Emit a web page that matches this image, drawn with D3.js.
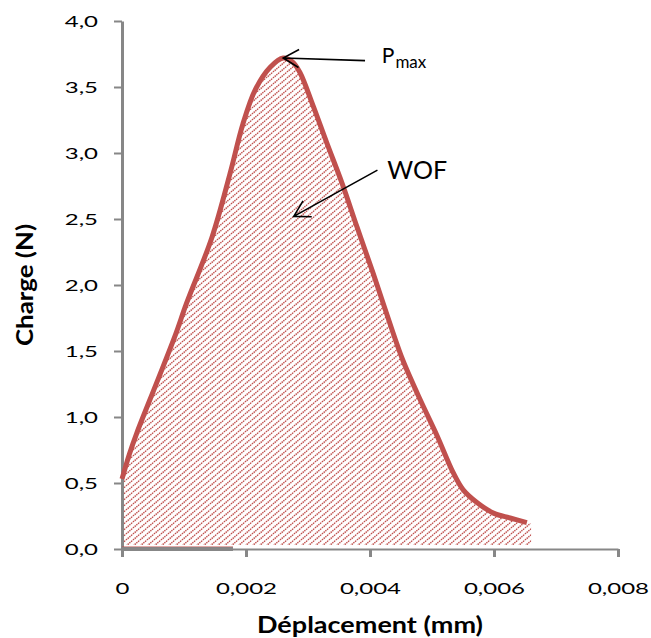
<!DOCTYPE html>
<html><head><meta charset="utf-8">
<script src="https://cdn.jsdelivr.net/npm/d3@7"></script>
<style>
html,body{margin:0;padding:0;background:#fff;}
svg{display:block;font-family:Lato,"Open Sans",sans-serif;}
</style></head>
<body><svg id="c" width="651" height="638"></svg>
<script>
// ---- data ----
const dispX = [0, 0.00012, 0.00024, 0.00056, 0.00086, 0.00104, 0.00145, 0.00174, 0.00195, 0.00215, 0.00239, 0.0026, 0.00275, 0.00287, 0.00308, 0.0033, 0.00355, 0.00379, 0.00405, 0.00437, 0.00453, 0.00481, 0.00508, 0.00534, 0.0055, 0.00573, 0.006, 0.00626, 0.00653];
const loadY = [0.53, 0.72, 0.88, 1.26, 1.62, 1.86, 2.36, 2.84, 3.22, 3.48, 3.65, 3.72, 3.69, 3.61, 3.36, 3.08, 2.77, 2.44, 2.09, 1.64, 1.43, 1.13, 0.86, 0.58, 0.45, 0.35, 0.27, 0.235, 0.2];
const areaEndX = 0.0066, areaEndY = 0.19, areaBase = 0.03;
const baseSeriesX = [0, 0.00179];
const baseSeriesY = [0, 0];
const yTicks = [0, 0.5, 1.0, 1.5, 2.0, 2.5, 3.0, 3.5, 4.0];
const xTicks = [0, 0.002, 0.004, 0.006, 0.008];
const xTitle = "Déplacement (mm)";
const yTitle = "Charge (N)";
const annPmax = {tip:[0.0026, 3.72], tail:[0.00392, 3.70], text:[0.00419, 3.70]};
const annWOF  = {tip:[0.00277, 2.52], tail:[0.00412, 2.87], text:[0.00428, 2.80]};

// ---- layout ----
const SX = 1.5; // horizontal stretch of the chart tick text
const RED = "#c0504d", AX = "#878787";
const svg = d3.select("#c");
const x = d3.scaleLinear().domain([0, 0.008]).range([122, 618]);
const y = d3.scaleLinear().domain([0, 4]).range([549, 21]);

// hatch pattern
const defs = svg.append("defs");
const pat = defs.append("pattern").attr("id","hatch").attr("patternUnits","userSpaceOnUse")
  .attr("width",7).attr("height",6);
pat.append("path").attr("d","M-7,6 L0,0 M0,6 L7,0 M7,6 L14,0")
  .attr("stroke",RED).attr("stroke-width",1.5)
  .attr("stroke-dasharray","1.4 0.8").attr("fill","none");

const pts = dispX.map((d,i)=>({x:d, y:loadY[i]}));
const areaPts = pts.concat([{x:areaEndX, y:areaEndY}]);
const curve = d3.curveCatmullRom.alpha(0.5);

svg.append("path").datum(areaPts)
  .attr("d", d3.area().x(d=>x(d.x)).y0(y(areaBase)).y1(d=>y(d.y)).curve(curve))
  .attr("fill","url(#hatch)");

// axes
const yAxis = svg.append("g").attr("transform",`translate(${x(0)},0)`)
  .call(d3.axisLeft(y).tickValues(yTicks).tickSize(8).tickSizeOuter(0)
    .tickFormat(d=>d3.format(".1f")(d).replace(".",",")));
yAxis.select(".domain").attr("stroke",AX).attr("stroke-width",3);
yAxis.selectAll(".tick line").attr("stroke",AX).attr("stroke-width",2);
yAxis.selectAll(".tick text").attr("x",-24/SX).attr("dy","0.36em").attr("fill","#000")
  .attr("font-size",16).attr("font-family","Lato").attr("transform",`scale(${SX},1)`);

const xAxis = svg.append("g").attr("transform",`translate(0,${y(0)})`)
  .call(d3.axisBottom(x).tickValues(xTicks).tickSize(8).tickSizeOuter(0)
    .tickFormat(d=> d===0 ? "0" : d3.format(".3f")(d).replace(".",",")));
xAxis.select(".domain").attr("stroke",AX).attr("stroke-width",2.2);
xAxis.selectAll(".tick line").attr("stroke",AX).attr("stroke-width",3);
xAxis.selectAll(".tick text").attr("y",45).attr("dy",0).attr("fill","#000")
  .attr("font-size",16).attr("font-family","Lato").attr("transform",`scale(${SX},1)`);

// baseline series (grey + faint red)
svg.append("path").datum(baseSeriesX.map((d,i)=>[d, baseSeriesY[i]]))
  .attr("d", d3.line().x(d=>x(d[0])).y(d=>y(d[1])))
  .attr("stroke",AX).attr("stroke-width",4).attr("fill","none");
svg.append("path").datum(baseSeriesX.map((d,i)=>[d, areaBase*0.6]))
  .attr("d", d3.line().x(d=>x(d[0])).y(d=>y(d[1])))
  .attr("stroke",RED).attr("stroke-width",1).attr("opacity",0.55).attr("fill","none");

// curve
svg.append("path").datum(pts)
  .attr("d", d3.line().x(d=>x(d.x)).y(d=>y(d.y)).curve(curve))
  .attr("stroke",RED).attr("stroke-width",5).attr("fill","none")
  .attr("stroke-linejoin","round").attr("stroke-linecap","butt");

// axis titles
svg.append("text").attr("x",(x(0)+x(0.008))/2).attr("y",633)
  .attr("text-anchor","middle").attr("font-weight","bold").attr("font-size",22)
  .attr("font-family","Lato").attr("textLength",226).attr("lengthAdjust","spacingAndGlyphs")
  .text(xTitle);
svg.append("text").attr("transform",`translate(33,${y(2)}) rotate(-90)`)
  .attr("text-anchor","middle").attr("font-weight","bold").attr("font-size",22)
  .attr("font-family","Lato").attr("textLength",122).attr("lengthAdjust","spacingAndGlyphs")
  .text(yTitle);

// annotations
function arrow(a){
  const tx=x(a.tip[0]), ty=y(a.tip[1]), sx=x(a.tail[0]), sy=y(a.tail[1]);
  const ang=Math.atan2(sy-ty, sx-tx), L=18, da=Math.PI/6;
  const p1=[tx+L*Math.cos(ang+da), ty+L*Math.sin(ang+da)];
  const p2=[tx+L*Math.cos(ang-da), ty+L*Math.sin(ang-da)];
  svg.append("path").attr("d",`M${sx},${sy}L${tx},${ty}M${p1[0]},${p1[1]}L${tx},${ty}L${p2[0]},${p2[1]}`)
    .attr("stroke","#000").attr("stroke-width",1.6).attr("fill","none");
}
arrow(annPmax); arrow(annWOF);
const tp = svg.append("text").attr("x",x(annPmax.text[0])).attr("y",y(annPmax.text[1])+2)
  .attr("font-family","Lato").attr("font-size",21);
tp.append("tspan").text("P");
tp.append("tspan").attr("font-size",17).attr("dy",5).attr("dx",1).text("max");
svg.append("text").attr("x",x(annWOF.text[0])).attr("y",y(annWOF.text[1]))
  .attr("font-family","Lato").attr("font-size",25).text("WOF");
</script></body></html>
